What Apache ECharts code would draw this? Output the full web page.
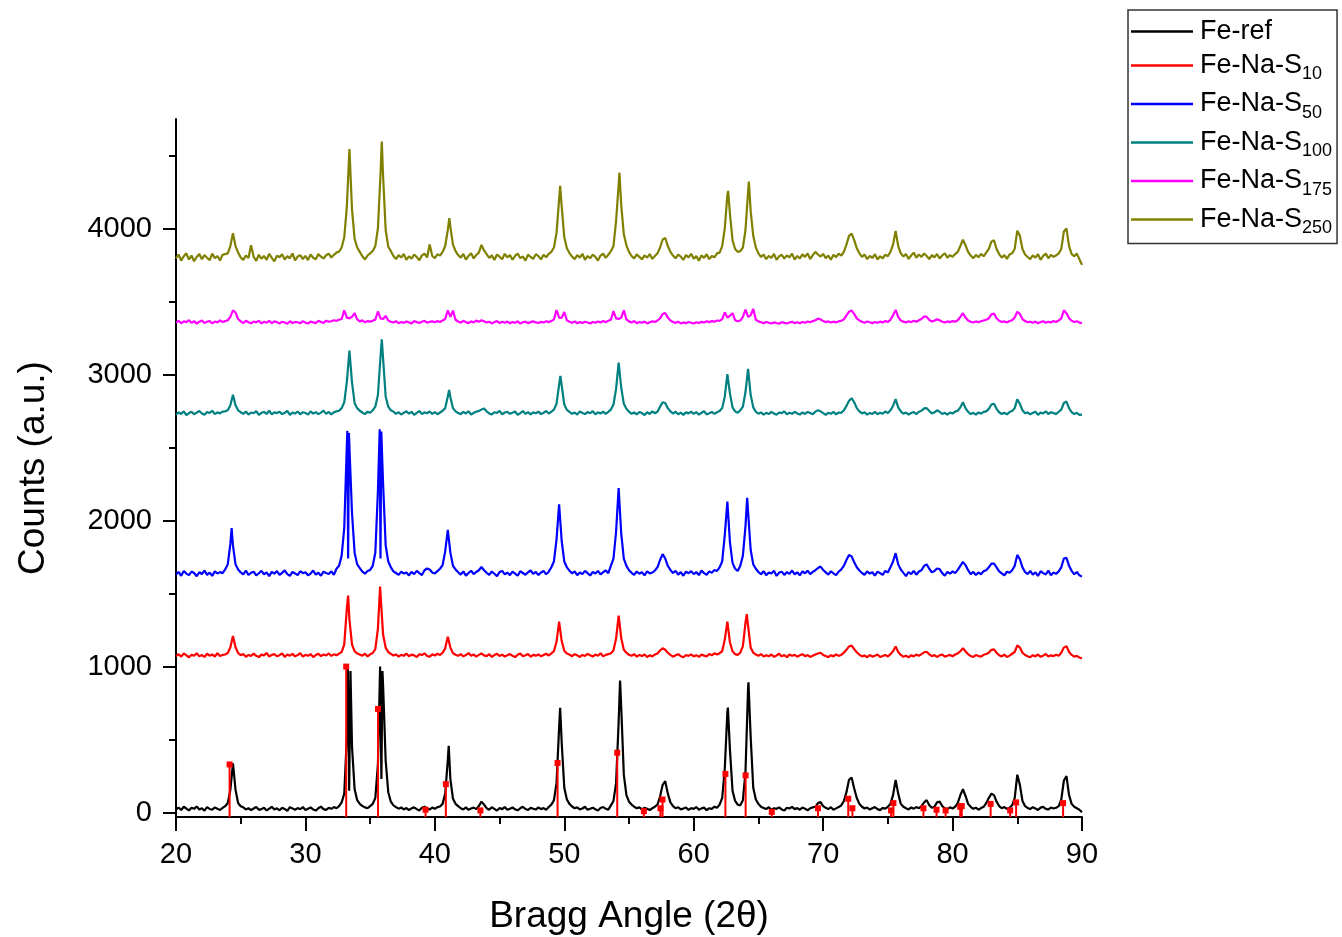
<!DOCTYPE html>
<html>
<head>
<meta charset="utf-8">
<script src="https://cdn.jsdelivr.net/npm/echarts@6/dist/echarts.min.js"></script>
<style>
  html, body { margin: 0; padding: 0; background: #ffffff; }
  #chart { width: 1342px; height: 937px; }
</style>
</head>
<body>
<div id="chart"></div>
<script>
// XRD patterns: counts sampled every 0.2 deg of 2-theta from 20 to 90.
const X_START = 20;
const X_STEP = 0.2;

const seriesNames = ['Fe-ref', 'Fe-Na-S10', 'Fe-Na-S50', 'Fe-Na-S100', 'Fe-Na-S175', 'Fe-Na-S250'];
const seriesColors = ['#000000', '#ff0000', '#0000ff', '#008080', '#ff00ff', '#808000'];

const xTicks = [20, 30, 40, 50, 60, 70, 80, 90];
const yTicks = [0, 1000, 2000, 3000, 4000];
const yMinorTicks = [500, 1500, 2500, 3500, 4500];
const Y_MIN = -30;
const Y_MAX = 4750;

const feRef = [
  20, 35, 18, 40, 28, 15, 33, 26, 42, 22,
  30, 14, 38, 25, 20, 36, 27, 18, 32, 44,
  66, 156, 338, 156, 66, 44, 36, 22, 30, 17,
  28, 38, 19, 24, 33, 15, 27, 40, 21, 30,
  16, 34, 25, 12, 37, 29, 20, 31, 23, 38,
  18, 27, 35, 22, 14, 30, 41, 24, 19, 33,
  26, 38, 30, 45, 70, 130, 520, 300, 450, 160,
  85, 60, 45, 36, 30, 45, 60, 100, 330, 750,
  870, 355, 140, 75, 50, 38, 27, 35, 22, 31,
  18, 29, 36, 24, 15, 33, 40, 28, 21, 35,
  26, 38, 42, 60, 130, 360, 230, 95, 60, 45,
  30, 22, 36, 19, 28, 34, 24, 45, 75, 55,
  30, 20, 37, 26, 14, 31, 24, 38, 19, 27,
  35, 22, 16, 30, 40, 25, 18, 33, 27, 21,
  36, 24, 31, 20, 38, 55, 85, 200, 580, 480,
  170, 90, 60, 42, 30, 36, 22, 28, 40, 19,
  26, 34, 23, 15, 32, 38, 27, 20, 50, 80,
  200, 620, 720, 260, 120, 75, 55, 40, 30, 36,
  22, 33, 27, 18, 30, 40, 55, 110, 190, 215,
  130, 70, 45, 30, 37, 22, 28, 35, 19, 31,
  25, 38, 20, 29, 34, 17, 30, 26, 41, 33,
  55, 100, 300, 690, 430, 150, 80, 55, 50, 85,
  280, 850, 520, 170, 90, 60, 40, 32, 24, 37,
  19, 30, 26, 36, 22, 15, 33, 28, 39, 24,
  31, 20, 35, 27, 16, 30, 36, 40, 65, 72,
  45, 33, 24, 37, 20, 29, 38, 50, 80, 140,
  225, 240, 165, 100, 60, 40, 28, 35, 21, 30,
  38, 24, 17, 32, 27, 40, 60, 120, 224, 130,
  60, 40, 30, 22, 35, 27, 38, 30, 45, 70,
  85, 50, 33, 40, 70, 75, 45, 30, 24, 36,
  28, 40, 65, 120, 160, 115, 60, 40, 26, 34,
  20, 31, 40, 65, 100, 130, 120, 75, 45, 30,
  38, 25, 33, 50, 100, 260, 190, 80, 45, 32,
  24, 37, 29, 18, 34, 40, 26, 21, 35, 28,
  33, 45, 90, 220, 250, 120, 60, 40, 30, 20,
  2
];
// apex points between the 0.2 deg samples: [2theta, counts]
const feRefPeaks = [[33.28, 990], [33.38, 150], [33.48, 970], [35.77, 1000], [35.87, 230], [35.95, 970],
  [41.07, 457], [49.68, 717], [54.31, 904], [62.64, 719], [64.23, 893]];

const feNaS10 = [
  1072, 1085, 1068, 1090, 1077, 1064, 1081, 1074, 1092, 1070,
  1079, 1066, 1088, 1075, 1083, 1069, 1091, 1073, 1080, 1083,
  1093, 1132, 1210, 1132, 1093, 1078, 1086, 1067, 1080, 1072,
  1089, 1074, 1065, 1082, 1077, 1093, 1069, 1080, 1086, 1071,
  1078, 1090, 1066, 1083, 1075, 1087, 1070, 1079, 1092, 1068,
  1081, 1074, 1086, 1065, 1079, 1088, 1072, 1083, 1076, 1090,
  1073, 1084, 1078, 1089, 1100, 1150, 1400, 1320, 1150, 1105,
  1090, 1082, 1075, 1088, 1070, 1084, 1093, 1120, 1260, 1500,
  1220, 1130, 1100, 1087, 1076, 1083, 1069, 1080, 1074, 1089,
  1071, 1082, 1077, 1066, 1085, 1079, 1091, 1073, 1068, 1084,
  1076, 1088, 1080, 1095, 1125, 1205, 1130, 1092, 1081, 1074,
  1086, 1070, 1079, 1092, 1075, 1083, 1068, 1080, 1090, 1077,
  1072, 1085, 1066, 1079, 1088, 1073, 1082, 1069, 1077, 1086,
  1074, 1065, 1081, 1090, 1071, 1078, 1086, 1067, 1080, 1075,
  1083, 1070, 1079, 1088, 1076, 1090, 1105, 1170, 1308, 1175,
  1108, 1090, 1082, 1071, 1085, 1077, 1066, 1080, 1073, 1087,
  1078, 1069, 1082, 1074, 1091, 1070, 1080, 1085, 1092, 1110,
  1190, 1349, 1195, 1115, 1095, 1081, 1074, 1086, 1068, 1079,
  1072, 1083, 1066, 1077, 1070, 1082, 1090, 1110, 1126, 1115,
  1095, 1080, 1068, 1077, 1085, 1071, 1064, 1079, 1073, 1084,
  1069, 1078, 1066, 1082, 1075, 1070, 1086, 1077, 1091, 1083,
  1092, 1105, 1185, 1308, 1165, 1105, 1085, 1080, 1095, 1140,
  1300, 1280, 1130, 1095, 1082, 1074, 1086, 1069, 1078, 1071,
  1083, 1067, 1076, 1088, 1070, 1079, 1065, 1082, 1074, 1080,
  1068, 1077, 1085, 1071, 1079, 1066, 1075, 1083, 1090, 1095,
  1080, 1072, 1065, 1078, 1070, 1084, 1073, 1081, 1095, 1115,
  1138, 1144, 1120, 1098, 1082, 1070, 1076, 1064, 1079, 1068,
  1074, 1083, 1066, 1072, 1080, 1069, 1085, 1105, 1137, 1100,
  1080, 1067, 1075, 1063, 1078, 1070, 1082, 1074, 1085, 1098,
  1102, 1084, 1071, 1079, 1066, 1077, 1083, 1068, 1074, 1080,
  1071, 1083, 1090, 1105, 1126, 1105, 1085, 1072, 1066, 1079,
  1073, 1068, 1081, 1086, 1095, 1115, 1118, 1095, 1078, 1070,
  1082, 1066, 1075, 1088, 1100, 1145, 1130, 1095, 1079, 1071,
  1064, 1078, 1070, 1083, 1067, 1075, 1086, 1069, 1077, 1072,
  1081, 1074, 1095, 1130, 1140, 1100, 1080, 1068, 1074, 1062,
  1055
];
const feNaS10Peaks = [[33.3, 1486], [35.77, 1548], [64.1, 1359]];

const feNaS50 = [
  1630, 1648, 1622, 1655, 1637, 1626, 1651, 1641, 1619, 1646,
  1634, 1657, 1628, 1644, 1621, 1652, 1638, 1647, 1640, 1665,
  1700, 1840, 1830, 1700, 1665, 1645, 1632, 1658, 1627, 1643,
  1650, 1624, 1639, 1656, 1631, 1645, 1620, 1649, 1636, 1654,
  1628, 1642, 1659, 1633, 1621, 1648, 1638, 1626, 1653, 1640,
  1646, 1625, 1637, 1658, 1630, 1643, 1622, 1650, 1641, 1634,
  1652, 1629, 1670, 1690, 1760, 1950, 2520, 2500, 2050, 1780,
  1700, 1675, 1650, 1636, 1655, 1662, 1690, 1780, 2200, 1740,
  2250, 1830, 1720, 1680, 1652, 1641, 1628, 1650, 1637, 1645,
  1624, 1649, 1633, 1656, 1640, 1627, 1660, 1672, 1665, 1645,
  1638, 1654, 1670, 1695, 1790, 1936, 1780, 1690, 1665, 1646,
  1630, 1652, 1623, 1641, 1656, 1634, 1648, 1660, 1682, 1660,
  1642, 1628, 1651, 1636, 1620, 1647, 1655, 1631, 1644, 1626,
  1650, 1637, 1622, 1653, 1641, 1629, 1646, 1658, 1635, 1648,
  1627, 1644, 1655, 1632, 1650, 1680, 1720, 1870, 2112, 1860,
  1720, 1680, 1657, 1639, 1652, 1626, 1645, 1633, 1656, 1640,
  1624, 1648, 1637, 1655, 1631, 1646, 1659, 1640, 1690, 1740,
  1920, 2222, 1910, 1740, 1690, 1660, 1642, 1628, 1651, 1636,
  1647, 1625, 1653, 1638, 1644, 1658, 1680, 1730, 1770, 1740,
  1690, 1662, 1641, 1655, 1630, 1647, 1622, 1650, 1639, 1654,
  1633, 1648, 1626, 1657, 1640, 1629, 1652, 1643, 1661, 1655,
  1680, 1720, 1900, 2130, 1850, 1710, 1670, 1655, 1690, 1760,
  1960, 2060, 1800, 1700, 1670, 1648, 1632, 1654, 1626, 1645,
  1637, 1656, 1621, 1644, 1650, 1628, 1647, 1635, 1658, 1631,
  1646, 1625, 1652, 1639, 1657, 1633, 1649, 1660, 1675, 1685,
  1662, 1645, 1630, 1653, 1638, 1626, 1650, 1665, 1690, 1730,
  1765, 1755, 1715, 1680, 1658, 1641, 1629, 1652, 1637, 1646,
  1623, 1650, 1640, 1628, 1655, 1645, 1680, 1720, 1777, 1700,
  1665, 1642, 1620, 1648, 1633, 1656, 1629, 1651, 1660, 1690,
  1700, 1670, 1645, 1655, 1672, 1668, 1640, 1622, 1649, 1636,
  1652, 1640, 1662, 1690, 1717, 1695, 1660, 1634, 1648, 1627,
  1645, 1632, 1654, 1660, 1680, 1705, 1706, 1680, 1652, 1638,
  1624, 1650, 1642, 1660, 1690, 1765, 1735, 1680, 1648, 1633,
  1655, 1629, 1646, 1621, 1653, 1640, 1631, 1657, 1626, 1644,
  1635, 1652, 1680, 1740, 1745, 1690, 1655, 1632, 1648, 1625,
  1616
];
const feNaS50Peaks = [[24.3, 1948], [33.24, 2614], [33.3, 1740], [33.36, 2600],
  [35.74, 2626], [35.86, 2610], [64.13, 2155]];

const feNaS100 = [
  2725, 2741, 2730, 2748, 2722, 2736, 2745, 2728, 2739, 2750,
  2733, 2724, 2744, 2737, 2752, 2729, 2741, 2734, 2746, 2748,
  2755, 2790, 2861, 2790, 2755, 2742, 2731, 2747, 2726, 2740,
  2735, 2749, 2723, 2738, 2744, 2730, 2752, 2727, 2741, 2736,
  2745, 2729, 2738, 2751, 2724, 2740, 2733, 2747, 2728, 2742,
  2737, 2725, 2748, 2732, 2743, 2729, 2739, 2753, 2731, 2744,
  2727, 2741, 2748, 2752, 2770, 2810, 2950, 3164, 2945, 2805,
  2770, 2752, 2740, 2729, 2746, 2738, 2755, 2780, 2860, 3120,
  3110, 2850, 2780, 2755, 2746, 2731, 2742, 2726, 2739, 2748,
  2732, 2745, 2724, 2737, 2750, 2729, 2741, 2735, 2747, 2730,
  2743, 2728, 2740, 2752, 2770, 2850, 2845, 2770, 2748, 2736,
  2729, 2744, 2733, 2749, 2725, 2738, 2746, 2750, 2760, 2768,
  2748, 2734, 2726, 2742, 2737, 2751, 2728, 2740, 2745, 2731,
  2739, 2747, 2724, 2736, 2750, 2730, 2743, 2727, 2741, 2735,
  2746, 2729, 2738, 2751, 2733, 2745, 2760, 2800, 2930, 2925,
  2795, 2758, 2744, 2731, 2740, 2726, 2748, 2737, 2729, 2743,
  2735, 2750, 2727, 2741, 2733, 2746, 2730, 2744, 2760, 2795,
  2900, 3082, 2910, 2800, 2765, 2746, 2731, 2740, 2727, 2744,
  2736, 2723, 2742, 2730, 2748, 2735, 2745, 2780, 2810, 2805,
  2770, 2748, 2733, 2745, 2728, 2739, 2724, 2741, 2734, 2746,
  2730, 2743, 2725, 2738, 2749, 2727, 2735, 2744, 2731, 2742,
  2750, 2770, 2850, 3003, 2870, 2775, 2748, 2738, 2755, 2780,
  2880, 3039, 2860, 2775, 2745, 2732, 2741, 2726, 2738, 2729,
  2744, 2733, 2725, 2740, 2736, 2748, 2727, 2739, 2731, 2745,
  2734, 2726, 2741, 2730, 2744, 2737, 2728, 2746, 2755, 2748,
  2736, 2724, 2739, 2731, 2745, 2727, 2740, 2738, 2755, 2785,
  2820, 2838, 2810, 2770, 2748, 2734, 2742, 2725, 2737, 2730,
  2744, 2728, 2739, 2732, 2747, 2736, 2755, 2785, 2832, 2775,
  2748, 2731, 2740, 2726, 2737, 2743, 2729, 2745, 2752, 2768,
  2770, 2750, 2733, 2741, 2755, 2745, 2730, 2738, 2725, 2740,
  2733, 2746, 2752, 2775, 2810, 2770, 2745, 2729, 2738, 2725,
  2741, 2732, 2744, 2748, 2765, 2795, 2800, 2765, 2742, 2730,
  2738, 2727, 2743, 2750, 2770, 2830, 2800, 2755, 2735, 2741,
  2728, 2737, 2746, 2724, 2739, 2733, 2748, 2730, 2742, 2736,
  2729, 2745, 2760, 2805, 2815, 2770, 2742, 2730, 2738, 2724,
  2725
];
const feNaS100Peaks = [[35.9, 3242], [41.1, 2895], [49.7, 2991]];

const feNaS175 = [
  3356, 3368, 3351, 3364, 3359, 3372, 3354, 3366, 3349, 3362,
  3370, 3353, 3361, 3367, 3350, 3363, 3357, 3371, 3360, 3366,
  3372, 3395, 3440, 3425, 3380, 3364, 3352, 3368, 3358, 3351,
  3363, 3357, 3369, 3350, 3361, 3355, 3367, 3352, 3364, 3359,
  3350, 3362, 3356, 3348, 3365, 3353, 3360, 3358, 3351, 3366,
  3355, 3349, 3363, 3357, 3352, 3368, 3360, 3354, 3369, 3362,
  3365, 3372, 3368, 3375, 3380, 3440, 3390, 3385, 3395, 3420,
  3378, 3364, 3371, 3358, 3366, 3362, 3369, 3375, 3432, 3385,
  3380, 3402, 3370, 3362, 3356, 3365, 3352, 3360, 3354, 3363,
  3357, 3350, 3366, 3359, 3353, 3362, 3368, 3355, 3361, 3364,
  3358, 3366, 3360, 3370, 3380, 3440, 3395, 3438, 3375, 3363,
  3355, 3368, 3359, 3352, 3364, 3357, 3370, 3361, 3372, 3365,
  3356, 3362, 3350, 3359, 3366, 3353, 3361, 3355, 3363, 3351,
  3360, 3354, 3365, 3349, 3358, 3362, 3352, 3359, 3364, 3357,
  3353, 3361, 3356, 3365, 3359, 3366, 3378, 3442, 3390, 3388,
  3428, 3372, 3362, 3355, 3364, 3351, 3359, 3353, 3362, 3356,
  3350, 3360, 3355, 3363, 3357, 3366, 3359, 3368, 3375, 3435,
  3385, 3380, 3390, 3440, 3378, 3364, 3357, 3366, 3352, 3360,
  3355, 3363, 3350, 3358, 3364, 3360, 3370, 3385, 3415, 3422,
  3390, 3370, 3360, 3354, 3362, 3350, 3357, 3352, 3360, 3355,
  3349, 3358, 3353, 3361, 3356, 3365, 3359, 3366, 3362, 3370,
  3368, 3380, 3426, 3390, 3402, 3420, 3372, 3365, 3370, 3395,
  3445, 3395, 3405, 3450, 3375, 3364, 3358, 3352, 3360, 3355,
  3350, 3357, 3353, 3348, 3359, 3354, 3350, 3356, 3361, 3352,
  3358, 3351, 3360, 3355, 3363, 3358, 3366, 3372, 3383, 3378,
  3366, 3359, 3364, 3356, 3362, 3357, 3365, 3368, 3378, 3405,
  3430, 3438, 3415, 3385, 3370, 3362, 3355, 3363, 3358, 3352,
  3360, 3355, 3362, 3357, 3366, 3361, 3375, 3405, 3443, 3395,
  3370, 3362, 3357, 3365, 3359, 3368, 3362, 3372, 3380, 3398,
  3395, 3374, 3363, 3369, 3378, 3372, 3362, 3356, 3364, 3359,
  3366, 3362, 3372, 3395, 3420, 3390, 3370, 3362, 3356, 3364,
  3358, 3365, 3370, 3375, 3385, 3412, 3418, 3385, 3368, 3360,
  3364, 3357, 3366, 3372, 3390, 3430, 3415, 3380, 3366, 3358,
  3362, 3355, 3363, 3351, 3359, 3365, 3354, 3361, 3357, 3366,
  3360, 3370, 3385, 3440, 3420, 3385, 3368, 3360, 3365, 3356,
  3352
];
const feNaS175Peaks = [];

const feNaS250 = [
  3795, 3822, 3780, 3810, 3830, 3788, 3815, 3776, 3805, 3826,
  3790, 3818, 3800, 3784, 3828, 3797, 3812, 3781, 3820, 3825,
  3830, 3880, 3968, 3880, 3835, 3802, 3785, 3815, 3798, 3885,
  3806, 3779, 3820, 3793, 3812, 3786, 3827, 3799, 3775, 3814,
  3803, 3824, 3787, 3811, 3796, 3829, 3782, 3808, 3818, 3791,
  3813, 3784, 3822, 3800, 3789, 3826, 3807, 3795, 3817, 3828,
  3801, 3820, 3835, 3842, 3870, 3940, 4150, 4544, 4130, 3930,
  3870, 3840, 3810, 3788, 3815, 3830, 3846, 3880, 4000, 4370,
  4360, 3990, 3875, 3845, 3812, 3790, 3818, 3801, 3826, 3785,
  3810, 3794, 3822, 3805, 3783, 3816, 3828, 3802, 3890, 3812,
  3797, 3823, 3815, 3840, 3880, 3990, 4010, 3890, 3845, 3818,
  3800, 3826, 3787, 3812, 3830, 3795, 3819, 3835, 3888, 3850,
  3825, 3798, 3816, 3784, 3822, 3807, 3790, 3827, 3803, 3818,
  3786, 3813, 3829, 3797, 3808, 3780, 3821, 3805, 3792, 3824,
  3811, 3789, 3820, 3803, 3826, 3840, 3870, 3970, 4200, 4150,
  3940, 3865, 3832, 3808, 3790, 3818, 3800, 3827, 3785, 3812,
  3796, 3822, 3806, 3781, 3815, 3828, 3799, 3820, 3845, 3880,
  4050, 4300, 4160, 3960, 3885, 3840, 3812, 3795, 3823, 3806,
  3789, 3816, 3800, 3825, 3792, 3812, 3830, 3870, 3925, 3935,
  3880, 3840, 3815, 3796, 3822, 3808, 3785, 3818, 3802, 3827,
  3793, 3811, 3780, 3816, 3799, 3824, 3790, 3812, 3803, 3830,
  3835, 3880, 4000, 4230, 4100, 3920, 3860, 3840, 3845, 3870,
  3990, 4250, 4120, 3950, 3870, 3830, 3805, 3822, 3790, 3813,
  3798, 3826, 3785, 3809, 3820, 3794, 3816, 3802, 3828, 3787,
  3812, 3795, 3823, 3806, 3830, 3791, 3818, 3840, 3822, 3808,
  3826, 3797, 3815, 3786, 3820, 3804, 3828, 3815, 3840, 3890,
  3950, 3965, 3920, 3865, 3830, 3806, 3822, 3790, 3813, 3798,
  3824, 3788, 3810, 3795, 3821, 3810, 3840, 3890, 3984, 3880,
  3830, 3808, 3826, 3792, 3815, 3835, 3800, 3822, 3806, 3829,
  3812, 3790, 3818, 3802, 3826, 3795, 3815, 3831, 3800, 3818,
  3806, 3825, 3840, 3880, 3923, 3885, 3840, 3815, 3796, 3820,
  3803, 3827, 3810, 3835, 3860, 3910, 3920, 3860, 3825, 3800,
  3818, 3792, 3822, 3830, 3860, 3985, 3950, 3860, 3822, 3805,
  3790, 3816, 3800, 3825, 3785, 3812, 3828, 3796, 3819, 3806,
  3815, 3830, 3860, 3980, 4000, 3880, 3825, 3810, 3828, 3790,
  3751
];
const feNaS250Peaks = [[35.9, 4596], [41.12, 4071], [49.68, 4292], [54.26, 4384], [62.66, 4258], [64.26, 4322]];

// Reference powder pattern (stick positions and intensities) drawn under Fe-ref
const refStickPos = [24.14, 33.15, 35.61, 39.28, 40.85, 43.52, 49.48, 54.09, 56.15, 57.43, 57.59, 62.45,
  64.01, 66.03, 69.60, 71.94, 72.26, 75.25, 75.43, 77.75, 78.76, 79.46, 80.59, 80.71, 82.94, 84.45, 84.91, 88.54];
const refStickInt = [330, 1000, 710, 20, 195, 15, 340, 410, 10, 30, 90, 265,
  255, 5, 30, 95, 30, 15, 65, 30, 20, 15, 40, 45, 60, 15, 70, 65];

const FONT = '"Liberation Sans", Arial, sans-serif';

function buildPoints(values, extra) {
  const pts = values.map((v, i) => [Math.round((X_START + i * X_STEP) * 100) / 100, v]);
  extra.forEach(p => pts.push(p));
  pts.sort((a, b) => a[0] - b[0]);
  return pts;
}

const curves = [
  buildPoints(feRef, feRefPeaks),
  buildPoints(feNaS10, feNaS10Peaks),
  buildPoints(feNaS50, feNaS50Peaks),
  buildPoints(feNaS100, feNaS100Peaks),
  buildPoints(feNaS175, feNaS175Peaks),
  buildPoints(feNaS250, feNaS250Peaks)
];

const lineSeries = curves.map((pts, i) => ({
  name: seriesNames[i],
  type: 'line',
  data: pts,
  symbol: 'none',
  showSymbol: false,
  sampling: null,
  lineStyle: { color: seriesColors[i], width: 2.2 },
  itemStyle: { color: seriesColors[i] },
  z: 2 + i,
  animation: false
}));

const stickSeries = {
  name: 'reference',
  type: 'custom',
  data: refStickPos.map((x, i) => [x, refStickInt[i]]),
  z: 20,
  animation: false,
  renderItem: function (params, api) {
    const base = api.coord([api.value(0), Y_MIN]);
    const top = api.coord([api.value(0), api.value(1)]);
    return {
      type: 'group',
      children: [
        { type: 'line', shape: { x1: base[0], y1: base[1], x2: top[0], y2: top[1] },
          style: { stroke: '#ff0000', lineWidth: 2 } },
        { type: 'rect', shape: { x: top[0] - 3, y: top[1] - 3, width: 6, height: 6 },
          style: { fill: '#ff0000' } }
      ]
    };
  }
};

const chart = echarts.init(document.getElementById('chart'), null, { renderer: 'canvas' });

chart.setOption({
  backgroundColor: '#ffffff',
  animation: false,
  textStyle: { fontFamily: FONT },
  grid: { left: 176, right: 260, top: 119, bottom: 120, containLabel: false, outerBoundsMode: 'none' },
  legend: {
    data: seriesNames,
    orient: 'vertical',
    left: 1128,
    top: 10,
    align: 'left',
    icon: 'rect',
    itemWidth: 62,
    itemHeight: 2.5,
    itemGap: 7,
    padding: [8, 5, 6, 3],
    borderColor: '#333333',
    borderWidth: 1.5,
    selectedMode: false,
    formatter: function (name) {
      const m = name.match(/^(Fe-Na-S)(\d+)$/);
      if (m) return '{m|' + m[1] + '}{s|' + m[2] + '}';
      return '{m|' + name + '}';
    },
    textStyle: {
      fontFamily: FONT,
      color: '#000',
      rich: {
        m: { fontSize: 27, lineHeight: 36, fontFamily: FONT, color: '#000', padding: [0, 0, 0, 2] },
        s: { fontSize: 18, lineHeight: 36, verticalAlign: 'bottom', fontFamily: FONT, color: '#000' }
      }
    }
  },
  xAxis: {
    type: 'value',
    min: 20,
    max: 90,
    interval: 10,
    name: 'Bragg Angle (2\u03b8)',
    nameLocation: 'middle',
    nameGap: 81,
    nameTextStyle: { fontSize: 37, color: '#000', fontFamily: FONT },
    axisLine: { show: true, onZero: false, lineStyle: { color: '#000', width: 2 } },
    axisTick: { show: true, length: 14, lineStyle: { color: '#000', width: 2 } },
    minorTick: { show: true, splitNumber: 2, length: 7, lineStyle: { color: '#000', width: 2 } },
    axisLabel: { fontSize: 29, color: '#000', margin: 23, fontFamily: FONT,
      customValues: xTicks },
    splitLine: { show: false },
    minorSplitLine: { show: false }
  },
  yAxis: [
    {
      type: 'value',
      min: Y_MIN,
      max: Y_MAX,
      position: 'left',
      name: 'Counts (a.u.)',
      nameLocation: 'middle',
      nameGap: 124,
      nameTextStyle: { fontSize: 37, color: '#000', fontFamily: FONT },
      axisLine: { show: true, onZero: false, lineStyle: { color: '#000', width: 2 } },
      axisTick: { show: true, length: 13, lineStyle: { color: '#000', width: 2 }, customValues: yTicks },
      axisLabel: { fontSize: 29, color: '#000', margin: 24, fontFamily: FONT, customValues: yTicks,
        formatter: function (v) { return String(v); } },
      splitLine: { show: false }
    },
    {
      type: 'value',
      min: Y_MIN,
      max: Y_MAX,
      position: 'left',
      offset: 0,
      axisLine: { show: false },
      axisTick: { show: true, length: 7, lineStyle: { color: '#000', width: 2 }, customValues: yMinorTicks },
      axisLabel: { show: false },
      splitLine: { show: false }
    }
  ],
  series: lineSeries.concat([stickSeries])
});
</script>
</body>
</html>
